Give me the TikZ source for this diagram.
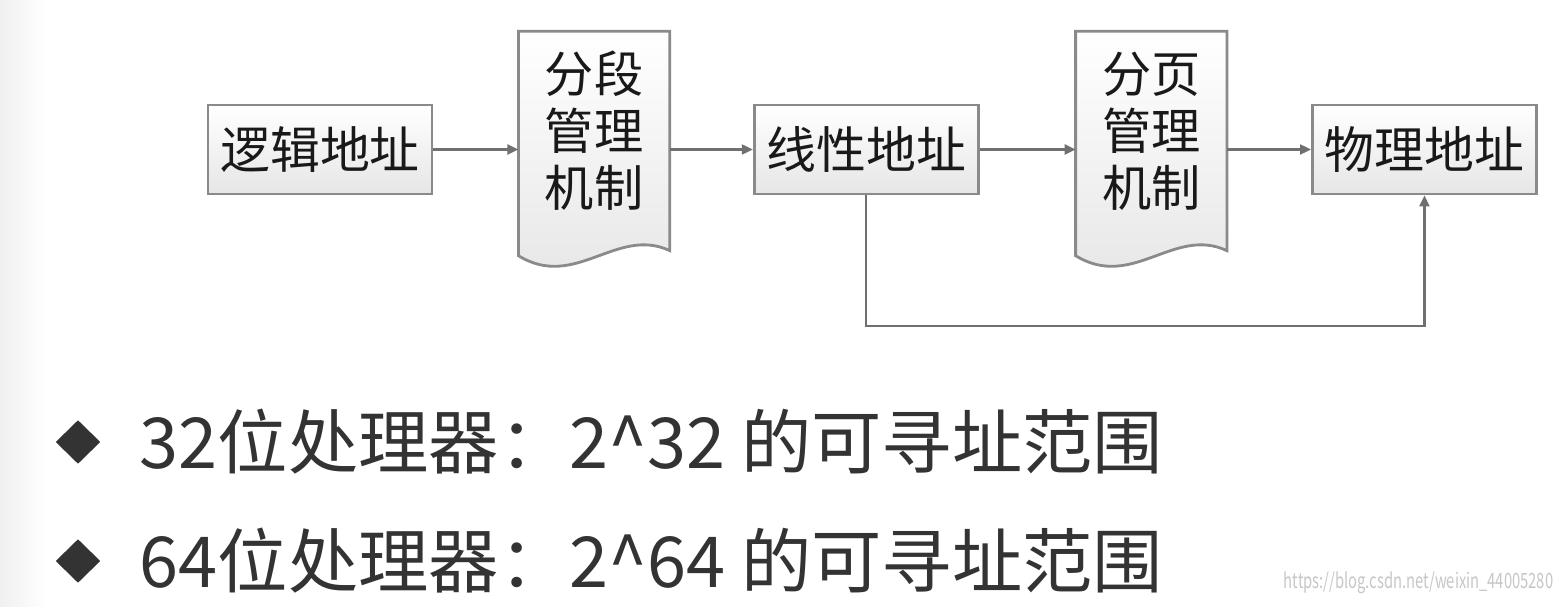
\documentclass[tikz,border=0pt]{standalone}
\usepackage{fontspec}
\setmainfont{Noto Sans CJK SC}
\usetikzlibrary{arrows.meta,positioning,shapes.geometric,calc,backgrounds}
\definecolor{bxline}{HTML}{8A8A8A}
\definecolor{bxfill}{HTML}{E6E6E6}
\definecolor{lnk}{HTML}{707070}
\definecolor{txdark}{HTML}{333333}
\newcommand{\docoutline}[1]{%
  \draw[docline] (#1.north west) -- (#1.north east) -- ($(#1.south east)+(0,-0.2)$)
    .. controls +(-0.53,0.25) and +(0.57,-0.35) .. ($(#1.south west)+(0,-0.25)$) -- cycle;}

\begin{document}
\begin{tikzpicture}[
  addr/.style={draw=bxline,line width=0.8pt,top color=white,bottom color=bxfill,
    minimum width=2.24cm,minimum height=0.89cm,inner sep=0pt,text=black!90,
    font=\fontsize{14.2}{16}\selectfont},
  doc/.style={minimum width=1.5cm,minimum height=1.98cm,inner sep=0pt,align=center,
    text=black!90,font=\fontsize{14}{16.2}\selectfont},
  docline/.style={draw=bxline,line width=0.8pt,top color=white,bottom color=bxfill},
  link/.style={draw=lnk,line width=0.6pt,-{Triangle[length=1.1mm,width=1mm]}},
  bullet/.style={diamond,fill=txdark,minimum width=0.45cm,minimum height=0.44cm,inner sep=0pt},
  point/.style={inner sep=0pt,text=txdark,font=\fontsize{20}{24}\selectfont}
]
\useasboundingbox (0,0) rectangle (15.62,6.06);
\shade[left color=gray!12,right color=white] (0,0) rectangle (0.45,6.06);

% address chain
\node[addr] (logic) at (3.20,4.565) {逻辑地址};
\node[doc,right=0.85cm of logic,yshift=0.185cm] (seg) {分段\\管理\\机制};
\node[addr,right=0.83cm of seg,yshift=-0.185cm] (lin) {线性地址};
\node[doc,right=0.96cm of lin,yshift=0.185cm] (page) {分页\\管理\\机制};
\node[addr,right=0.84cm of page,yshift=-0.185cm] (phys) {物理地址};
\begin{pgfonlayer}{background}
  \docoutline{seg}
  \docoutline{page}
\end{pgfonlayer}

\draw[link] (logic.east) -- (logic.east -| seg.west);
\draw[link] (seg.east |- lin.west) -- (lin.west);
\draw[link] (lin.east) -- (lin.east -| page.west);
\draw[link] (page.east |- phys.west) -- (phys.west);
\draw[link] (lin.south) -- ++(0,-1.31) -| (phys.south);

% bullet lines
\node[bullet] (b1) at (0.78,1.64) {};
\node[point,right=0.38cm of b1] (t1) {32位处理器：2\textasciicircum32 的可寻址范围};
\node[bullet] (b2) at (0.78,0.45) {};
\node[point,right=0.38cm of b2] (t2) {64位处理器：2\textasciicircum64 的可寻址范围};

\node[anchor=east,xscale=0.7,font=\fontsize{6}{7}\selectfont,text=gray!45] (mark) at (15.62,0.23)
  {https://blog.csdn.net/weixin\_44005280};
\end{tikzpicture}
\end{document}
